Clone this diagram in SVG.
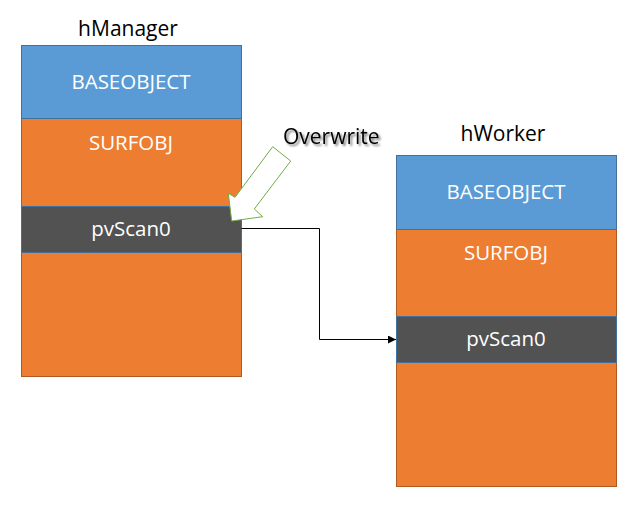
<svg xmlns="http://www.w3.org/2000/svg" width="638" height="517" viewBox="0 0 638 517">
<defs>
<style>
.blue{fill:#5B9BD5;stroke:#41719C;stroke-width:1}
.orange{fill:#ED7D31;stroke:#AE5A21;stroke-width:1}
.dark{fill:#525252;stroke:#41719C;stroke-width:1}
.lbl{font-family:"Open Sans","Noto Sans","Liberation Sans",sans-serif;font-size:20.5px;fill:#ffffff;text-anchor:middle}
.title{font-family:"Open Sans","Noto Sans","Liberation Sans",sans-serif;font-size:21px;fill:#000000;text-anchor:middle}
.conn{fill:none;stroke:#000000;stroke-width:1}
</style>
<marker id="ah" viewBox="0 0 10 10" refX="10" refY="5" markerWidth="8" markerHeight="8" markerUnits="userSpaceOnUse" orient="auto">
<path d="M0,0 L10,5 L0,10 z" fill="#000000"/>
</marker>
<filter id="sh" x="-10%" y="-20%" width="130%" height="160%">
<feGaussianBlur in="SourceAlpha" stdDeviation="1"/>
<feOffset dx="1.5" dy="1.5" result="o"/>
<feComponentTransfer><feFuncA type="linear" slope="0.5"/></feComponentTransfer>
<feMerge><feMergeNode/><feMergeNode in="SourceGraphic"/></feMerge>
</filter>
</defs>
<rect width="638" height="517" fill="#ffffff"/>
<g id="hManager">
<text class="title" x="128" y="36">hManager</text>
<rect class="orange" x="21.5" y="118.5" width="220" height="258"/>
<rect class="blue" x="21.5" y="45.5" width="220" height="73"/>
<text class="lbl" x="131" y="89">BASEOBJECT</text>
<text class="lbl" x="131" y="150">SURFOBJ</text>
<rect class="dark" x="21.5" y="206.5" width="220" height="46"/>
<text class="lbl" x="131" y="236">pvScan0</text>
</g>
<g id="hWorker">
<text class="title" x="503" y="141">hWorker</text>
<rect class="orange" x="396.5" y="229.5" width="220" height="257"/>
<rect class="blue" x="396.5" y="155.5" width="220" height="74"/>
<text class="lbl" x="506" y="199">BASEOBJECT</text>
<text class="lbl" x="506" y="260">SURFOBJ</text>
<rect class="dark" x="396.5" y="316.5" width="220" height="46"/>
<text class="lbl" x="506" y="346">pvScan0</text>
</g>
<g id="overwrite">
<polygon points="272.7,146.7 290.7,161 254.3,209 262.7,216.7 231.7,221 228.3,193.3 235,197.3" fill="#ffffff" stroke="#70AD47" stroke-width="1"/>
<text x="283" y="144" font-family="Open Sans,Noto Sans,Liberation Sans,sans-serif" font-size="21" fill="#000000" filter="url(#sh)">Overwrite</text>
</g>
<g id="connectors">
<polyline class="conn" points="241.5,228.5 319.5,228.5 319.5,339.5 396,339.5" marker-end="url(#ah)"/>
</g>
</svg>
